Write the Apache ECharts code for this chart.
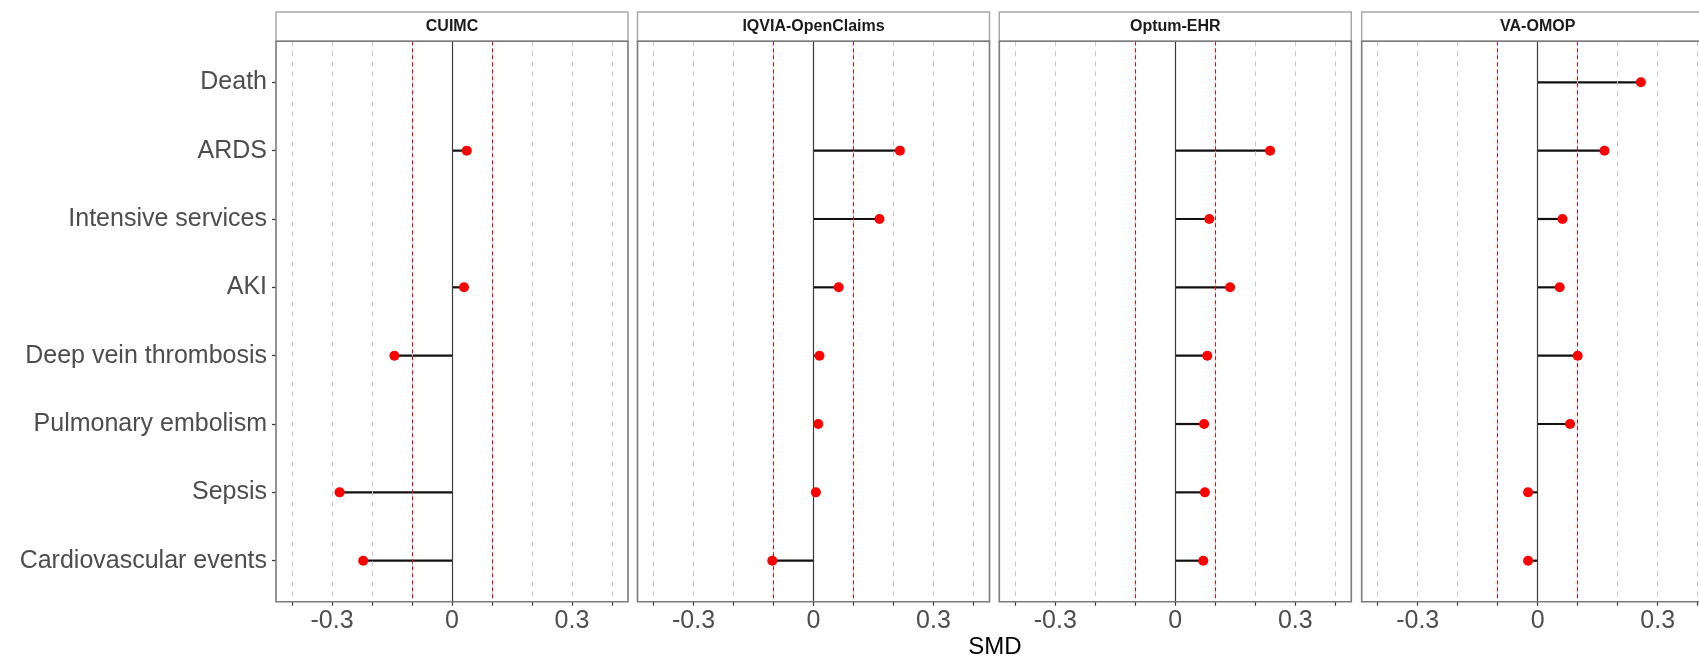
<!DOCTYPE html>
<html>
<head>
<meta charset="utf-8">
<script src="https://cdn.jsdelivr.net/npm/echarts@6/dist/echarts.min.js"></script>
<style>
html,body{margin:0;padding:0;background:#fff;}
#chart{width:1699px;height:658px;}
</style>
</head>
<body>
<div id="chart"></div>
<script>
// ---- data ----
const categories = ['Death','ARDS','Intensive services','AKI','Deep vein thrombosis','Pulmonary embolism','Sepsis','Cardiovascular events'];
const panels = ['CUIMC','IQVIA-OpenClaims','Optum-EHR','VA-OMOP'];
const cuimc = [null, 0.037, null, 0.030, -0.144, null, -0.281, -0.222];
const iqvia = [null, 0.216, 0.165, 0.063, 0.015, 0.012, 0.006, -0.103];
const optum = [null, 0.237, 0.085, 0.137, 0.080, 0.072, 0.074, 0.070];
const vaomop = [0.258, 0.167, 0.062, 0.055, 0.100, 0.081, -0.024, -0.024];
const panelValues = [cuimc, iqvia, optum, vaomop];
const xTicks = [-0.4,-0.3,-0.2,-0.1,0,0.1,0.2,0.3,0.4];
const xLabels = [-0.3, 0, 0.3];
const thresholds = [-0.1, 0.1];
const xTitle = 'SMD';

// ---- layout ----
const FONT = "'Liberation Sans', Arial, sans-serif";
const W = 1699;
const panelLefts = [276, 637.5, 999.3, 1361.7];
const panelW = 352, panelTop = 41.3, panelH = 560.4;
const stripTop = 12, stripH = 29.3;
const XMIN = -0.44, XMAX = 0.44;

const chart = echarts.init(document.getElementById('chart'), null, {renderer:'canvas'});

const grids = [], xAxes = [], yAxes = [], series = [], graphics = [];
panels.forEach((name, k) => {
  const left = panelLefts[k];
  const visW = Math.min(W, left + panelW) - left;     // panel may run past the page edge
  const xmax = XMIN + (XMAX - XMIN) * visW / panelW;
  grids.push({left: left, top: panelTop, width: visW, height: panelH, show: false});
  xAxes.push({type:'value', gridIndex:k, min:XMIN, max:xmax,
    axisLine:{show:false, onZero:false},
    axisTick:{show:true, customValues: xTicks, length:4, lineStyle:{color:'#333', width:1.2}},
    axisLabel:{show:true, customValues: xLabels, margin:7, color:'#4d4d4d', fontSize:25, fontFamily:FONT,
      formatter: v => String(+(+v).toFixed(1))},
    splitLine:{show:false}});
  yAxes.push({type:'value', gridIndex:k, min:-0.6, max:7.6, inverse:true, position:'left',
    axisLine:{show:false, onZero:false},
    axisTick:{show:k===0, customValues: categories.map((c,i)=>i), length:4, lineStyle:{color:'#333', width:1.2}},
    axisLabel:{show:k===0, customValues: categories.map((c,i)=>i), margin:9, color:'#4d4d4d', fontSize:25, fontFamily:FONT,
      formatter: v => categories[Math.round(v)]},
    splitLine:{show:false}});

  const mlData = [];
  xTicks.forEach(v => mlData.push({xAxis:v, lineStyle:{color:'#c8c8c8', width:1, type:[5,5]}}));
  thresholds.forEach(v => mlData.push({xAxis:v, lineStyle:{color:'#ff0000', width:1, type:[4,3]}}));
  mlData.push({xAxis:0, lineStyle:{color:'#3a3a3a', width:1.2, type:'solid'}});
  series.push({type:'scatter', xAxisIndex:k, yAxisIndex:k, data:[[0,-5]], symbolSize:0, silent:true, z:1,
    markLine:{silent:true, symbol:['none','none'], label:{show:false}, animation:false, data: mlData}});

  const vals = panelValues[k];
  const pts = [];
  vals.forEach((v,i) => { if (v !== null) pts.push([v, i]); });
  series.push({type:'custom', xAxisIndex:k, yAxisIndex:k, data: pts, z:4, silent:true,
    renderItem: (params, api) => {
      const p0 = api.coord([0, api.value(1)]);
      const p1 = api.coord([api.value(0), api.value(1)]);
      return {type:'line', shape:{x1:p0[0], y1:p0[1], x2:p1[0], y2:p1[1]},
        style:{stroke:'#111', lineWidth:2.2}};
    }});
  series.push({type:'scatter', xAxisIndex:k, yAxisIndex:k, data: pts, symbol:'circle', symbolSize:10,
    itemStyle:{color:'#ff0000', opacity:1}, z:5, silent:true});

  // panel border and strip (panel 4 runs past the right edge, as in the reference)
  graphics.push({type:'rect', shape:{x:left, y:panelTop, width:panelW, height:panelH},
    style:{fill:'none', stroke:'#7a7a7a', lineWidth:1.6}, z:20, silent:true});
  graphics.push({type:'rect', shape:{x:left, y:stripTop, width:panelW, height:stripH},
    style:{fill:'#fff', stroke:'#a8a8a8', lineWidth:1.5}, z:5, silent:true});
  graphics.push({type:'text', x:left+panelW/2, y:stripTop+stripH/2,
    style:{text:name, fill:'#1a1a1a', font:'bold 16px '+FONT, textAlign:'center', textVerticalAlign:'middle'}, z:6});
});
graphics.push({type:'text', x:995, y:647,
  style:{text:xTitle, fill:'#000', font:'24px '+FONT, textAlign:'center', textVerticalAlign:'middle'}});

chart.setOption({
  animation:false,
  backgroundColor:'#fff',
  grid: grids, xAxis: xAxes, yAxis: yAxes, series: series, graphic: graphics
});
</script>
</body>
</html>
